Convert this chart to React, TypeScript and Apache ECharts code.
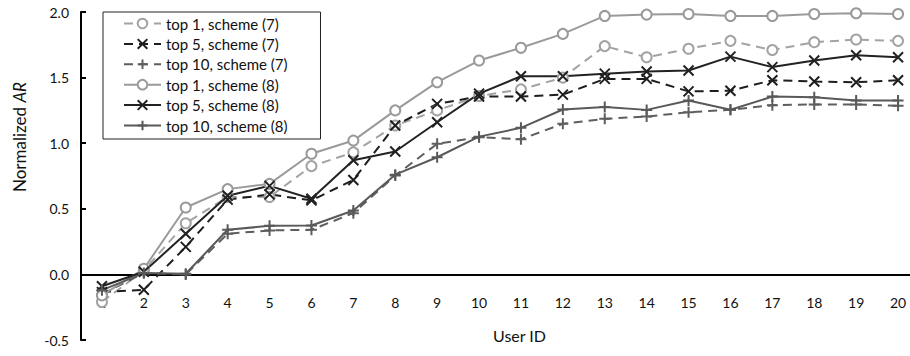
import React, { useEffect, useRef } from "react";
import * as echarts from "echarts";

const categories = ["1","2","3","4","5","6","7","8","9","10","11","12","13","14","15","16","17","18","19","20"];

const top1s7 = [-0.21, 0.03, 0.39, 0.59, 0.59, 0.825, 0.93, 1.135, 1.25, 1.36, 1.41, 1.5, 1.74, 1.655, 1.72, 1.78, 1.71, 1.77, 1.79, 1.78];
const top5s7 = [-0.135, -0.117, 0.21, 0.57, 0.61, 0.564, 0.72, 1.135, 1.3, 1.356, 1.356, 1.37, 1.49, 1.49, 1.395, 1.4, 1.48, 1.47, 1.465, 1.48];
const top10s7 = [-0.15, 0.01, 0.0, 0.31, 0.335, 0.34, 0.467, 0.754, 0.995, 1.046, 1.03, 1.148, 1.186, 1.203, 1.236, 1.255, 1.29, 1.295, 1.295, 1.285];
const top1s8 = [-0.16, 0.043, 0.51, 0.65, 0.69, 0.92, 1.02, 1.25, 1.465, 1.63, 1.727, 1.833, 1.97, 1.98, 1.985, 1.97, 1.97, 1.985, 1.99, 1.985];
const top5s8 = [-0.09, 0.02, 0.31, 0.6, 0.675, 0.576, 0.87, 0.937, 1.16, 1.378, 1.51, 1.51, 1.53, 1.546, 1.554, 1.66, 1.58, 1.63, 1.67, 1.655];
const top10s8 = [-0.12, 0.01, 0.005, 0.34, 0.37, 0.373, 0.487, 0.76, 0.893, 1.05, 1.117, 1.257, 1.275, 1.254, 1.325, 1.255, 1.355, 1.35, 1.325, 1.325];

const seriesNames = ["top 1, scheme (7)", "top 5, scheme (7)", "top 10, scheme (7)", "top 1, scheme (8)", "top 5, scheme (8)", "top 10, scheme (8)"];
const yTicks = { min: -0.5, max: 2.0, interval: 0.5 };

const FONT = "Lato";
const X_SYMBOL = "path://M0,0L10,10M10,0L0,10";
const PLUS_SYMBOL = "path://M5,0L5,10M0,5L10,5";

const GRID_TOP = 12;
const GRID_H = 328;

export default function App() {
  const ref = useRef<HTMLDivElement>(null);
  useEffect(() => {
    if (!ref.current) return;
    const chart = echarts.init(ref.current, undefined, { renderer: "svg" });
    const mk = (name: string, data: number[], color: string, dashed: boolean, symbol: string, size: number) => ({
      name,
      type: "line",
      data,
      symbol,
      symbolSize: size,
      showAllSymbol: true,
      lineStyle: { color, width: 2, type: dashed ? [9, 6] : "solid" },
      itemStyle: { color, borderColor: color, borderWidth: 2 },
      emphasis: { disabled: true },
    });
    const zeroOffset = ((0 - yTicks.min) / (yTicks.max - yTicks.min)) * GRID_H;
    chart.setOption({
      animation: false,
      textStyle: { fontFamily: FONT },
      grid: { left: 81, top: GRID_TOP, width: 838, height: GRID_H, containLabel: false, outerBoundsMode: "none" },
      legend: {
        orient: "vertical",
        left: 103,
        top: 12,
        itemWidth: 37,
        itemHeight: 12,
        itemGap: 3.4,
        padding: [3, 33, 5, 20],
        borderColor: "#222",
        borderWidth: 1,
        backgroundColor: "#fff",
        textStyle: { fontFamily: FONT, fontSize: 15, lineHeight: 17, color: "#111" },
        data: seriesNames,
      },
      xAxis: {
        type: "category",
        data: categories,
        boundaryGap: true,
        offset: -zeroOffset,
        axisLine: { onZero: false, lineStyle: { color: "#000", width: 2 } },
        axisTick: { inside: true, length: 4, lineStyle: { color: "#000", width: 2 } },
        axisLabel: { margin: 21, fontSize: 14, color: "#111", fontFamily: FONT },
        splitLine: { show: false },
      },
      yAxis: {
        type: "value",
        min: yTicks.min,
        max: yTicks.max,
        interval: yTicks.interval,
        axisLine: { show: true, lineStyle: { color: "#000", width: 2 } },
        axisTick: { show: true, inside: true, length: 5, lineStyle: { color: "#000", width: 2 } },
        axisLabel: { margin: 12, fontSize: 14, color: "#111", fontFamily: FONT, formatter: (v: number) => v.toFixed(1) },
        splitLine: { show: false },
      },
      graphic: [
        {
          type: "text",
          x: 19,
          y: 137,
          rotation: Math.PI / 2,
          style: {
            text: "{a|Normalized }{b|AR}",
            align: "center",
            verticalAlign: "middle",
            textAlign: "center",
            textVerticalAlign: "middle",
            rich: {
              a: { fontSize: 17, fontFamily: FONT, fill: "#111" },
              b: { fontSize: 17, fontFamily: FONT, fill: "#111", fontStyle: "italic" },
            },
          },
        },
        { type: "text", left: 493, top: 327, style: { text: "User ID", fontSize: 16, fontFamily: FONT, fill: "#111" } },
      ],
      series: [
        mk(seriesNames[0], top1s7, "#a3a3a3", true, "emptyCircle", 10),
        mk(seriesNames[1], top5s7, "#1e1e1e", true, X_SYMBOL, 10),
        mk(seriesNames[2], top10s7, "#5e5e5e", true, PLUS_SYMBOL, 11),
        mk(seriesNames[3], top1s8, "#9a9a9a", false, "emptyCircle", 10),
        mk(seriesNames[4], top5s8, "#222222", false, X_SYMBOL, 10),
        mk(seriesNames[5], top10s8, "#595959", false, PLUS_SYMBOL, 11),
      ],
    });
    return () => chart.dispose();
  }, []);
  return <div ref={ref} style={{ position: "absolute", left: 0, top: 0, width: 910, height: 356 }} />;
}
